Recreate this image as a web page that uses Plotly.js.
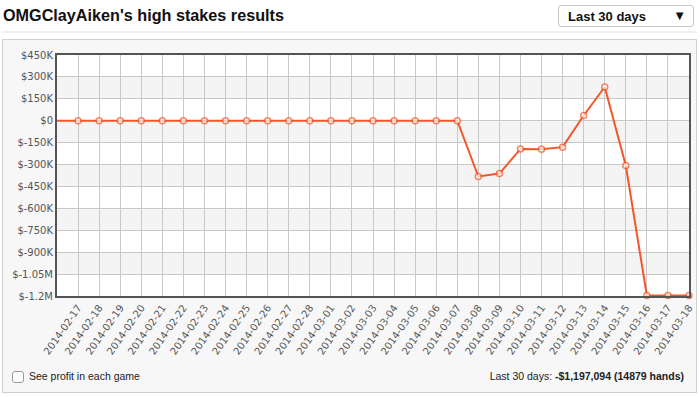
<!DOCTYPE html>
<html>
<head>
<meta charset="utf-8">
<script src="https://cdn.plot.ly/plotly-3.0.1.min.js"></script>
<style>
  html, body { margin:0; padding:0; width:700px; height:397px; background:#fff; overflow:hidden;
    font-family:"Liberation Sans", Arial, Helvetica, sans-serif; }
  #title { position:absolute; left:3px; top:6px; font-size:16.2px; font-weight:bold; color:#111; }
  #sep1 { position:absolute; left:2px; top:31px; width:695px; height:2px; background:#f0f0f0; }
  #dropdown { position:absolute; left:558px; top:5px; width:134px; height:20px; border:1px solid #c8c8c8; border-radius:3px;
    background:#fff; font-size:13px; font-weight:bold; color:#111; }
  #dropdown .lbl { position:absolute; left:9px; top:3px; }
  #dropdown .arr { position:absolute; right:7px; top:2px; font-size:13px; }
  #panel { position:absolute; left:2px; top:39px; width:693px; height:352px; border:1px solid #cfcfcf; background:#f7f7f7; }
  #chart { position:absolute; left:0; top:0; width:700px; height:397px; }
  #cb { position:absolute; left:12px; top:371px; width:10px; height:10px; border:1px solid #999; border-radius:3px; background:#fff; }
  #cbl { position:absolute; left:29px; top:370px; font-size:10.5px; color:#222; }
  #summary { position:absolute; right:16px; top:370px; font-size:10.5px; color:#222; }
</style>
</head>
<body>
<div id="title">OMGClayAiken's high stakes results</div>
<div id="sep1"></div>
<div id="dropdown"><span class="lbl">Last 30 days</span><span class="arr">&#9660;</span></div>
<div id="panel"></div>
<div id="chart"></div>
<div id="cb"></div>
<div id="cbl">See profit in each game</div>
<div id="summary">Last 30 days: <b>-$1,197,094 (14879 hands)</b></div>
<script>
// ---- data ----
const dates = ['2014-02-17','2014-02-18','2014-02-19','2014-02-20','2014-02-21','2014-02-22','2014-02-23',
  '2014-02-24','2014-02-25','2014-02-26','2014-02-27','2014-02-28','2014-03-01','2014-03-02','2014-03-03',
  '2014-03-04','2014-03-05','2014-03-06','2014-03-07','2014-03-08','2014-03-09','2014-03-10','2014-03-11',
  '2014-03-12','2014-03-13','2014-03-14','2014-03-15','2014-03-16','2014-03-17','2014-03-18'];
const profit = [0,0,0,0,0,0,0,0,0,0,0,0,0,0,0,0,0,0,0,
  -382000,-362000,-193000,-195000,-181000,36000,231000,-307000,-1197094,-1197094,-1197094];
const startDate = '2014-02-16';
const startProfit = 0;
const yTickVals = [450000,300000,150000,0,-150000,-300000,-450000,-600000,-750000,-900000,-1050000,-1200000];
const yTickText = ['$450K','$300K','$150K','$0','$-150K','$-300K','$-450K','$-600K','$-750K','$-900K','$-1.05M','$-1.2M'];

const lineColor = '#f4562a';
const xs = [startDate].concat(dates);
const ys = [startProfit].concat(profit);
const sizes = xs.map((d, i) => i === 0 ? 0 : 6);

// alternating bands (every other tick interval, starting at the second from top)
const bands = [];
for (let i = 1; i < yTickVals.length - 1; i += 2) {
  bands.push({type:'rect', xref:'paper', yref:'y', x0:0, x1:1, y0:yTickVals[i+1], y1:yTickVals[i],
    fillcolor:'#f4f4f4', line:{width:0}, layer:'below'});
}

const trace = {
  x: xs, y: ys, type:'scatter', mode:'lines+markers',
  line:{color:lineColor, width:2},
  marker:{size:sizes, color:'#ffffff', line:{color:lineColor, width:1.5}},
  cliponaxis:false, hoverinfo:'x+y'
};

const layout = {
  width:700, height:397,
  margin:{l:57, r:11, t:55, b:101, pad:0},
  paper_bgcolor:'rgba(0,0,0,0)', plot_bgcolor:'#ffffff',
  showlegend:false,
  font:{family:'"DejaVu Sans", Verdana, sans-serif', size:10, color:'#555'},
  xaxis:{type:'date', range:[startDate, dates[dates.length-1]], tickmode:'array', tickvals:dates, ticktext:dates,
    tickangle:-55, showgrid:true, gridcolor:'#c8c8c8', gridwidth:1, zeroline:false,
    showline:true, linecolor:'#555', linewidth:2, mirror:true, ticks:'', fixedrange:true,
    tickfont:{family:'"DejaVu Sans", Verdana, sans-serif', size:10, color:'#555'}},
  yaxis:{range:[-1200000, 450000], tickmode:'array', tickvals:yTickVals, ticktext:yTickText,
    showgrid:true, gridcolor:'#c8c8c8', gridwidth:1, zeroline:false,
    showline:true, linecolor:'#555', linewidth:2, mirror:true, ticks:'', fixedrange:true,
    tickfont:{family:'"DejaVu Sans", Verdana, sans-serif', size:10, color:'#555'}},
  shapes: bands
};

Plotly.newPlot('chart', [trace], layout, {displayModeBar:false, staticPlot:true});
</script>
</body>
</html>
